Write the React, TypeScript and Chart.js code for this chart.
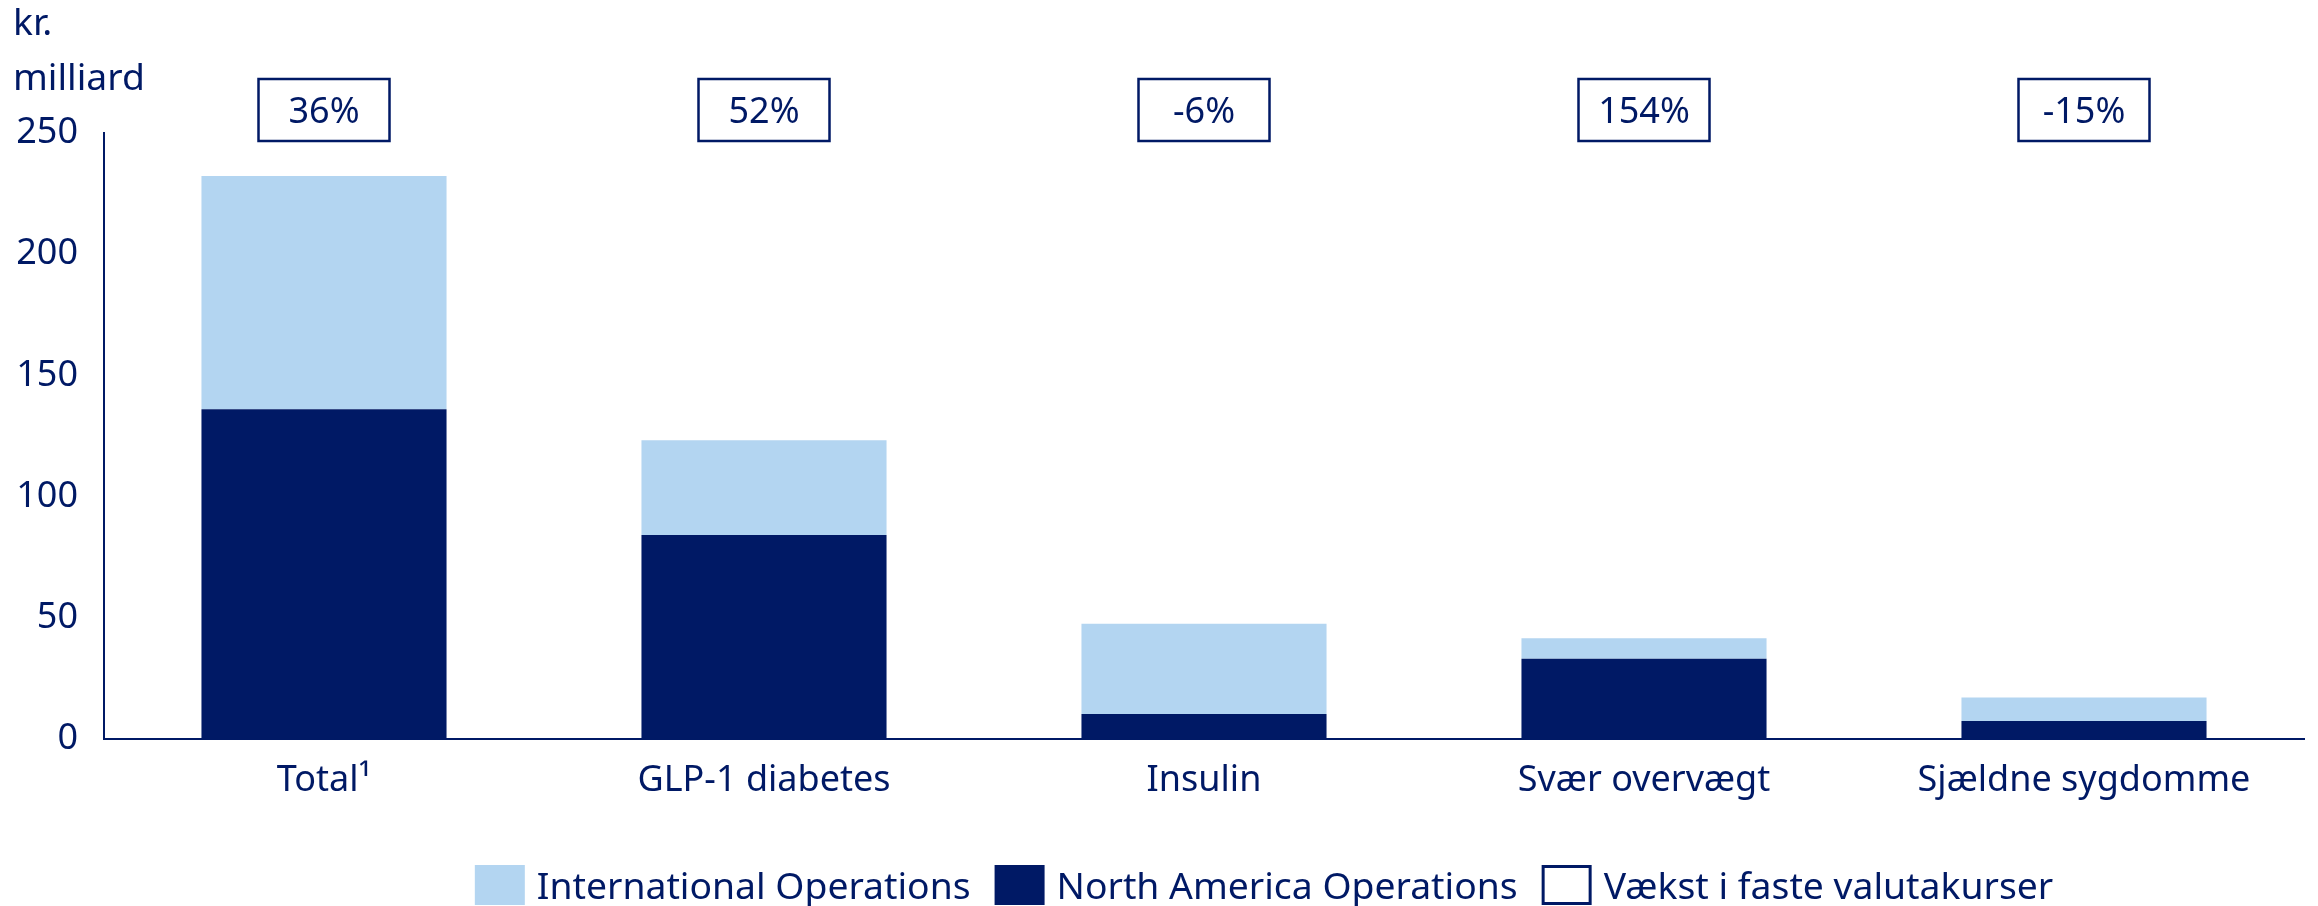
import React, { useEffect, useRef } from "react";
import { Chart, registerables } from "chart.js";

Chart.register(...registerables);

const categories = ["Total¹", "GLP-1 diabetes", "Insulin", "Svær overvægt", "Sjældne sygdomme"];
const northAmerica = [136.0, 84.2, 10.3, 33.1, 7.4];
const international = [96.3, 39.0, 37.2, 8.5, 9.7];
const growthLabels = ["36%", "52%", "-6%", "154%", "-15%"];
const yTicks = [0, 50, 100, 150, 200, 250];
const yTitleLines = ["kr.", "milliard"];
const legendLabels = ["International Operations", "North America Operations", "Vækst i faste valutakurser"];

const NAVY = "#001965";
const LIGHT = "#b3d5f1";
const FONT = "'Noto Sans', sans-serif";
const FS = 36;
const FS_LEGEND = 37.3;

const overlayPlugin = {
  id: "overlay",
  afterDraw(chart: any) {
    const ctx = chart.ctx;
    const area = chart.chartArea;
    const xs = chart.scales.x;
    ctx.save();
    ctx.fillStyle = NAVY;
    ctx.strokeStyle = NAVY;
    ctx.textAlign = "left";
    ctx.textBaseline = "alphabetic";
    // y-axis title
    ctx.font = `${FS_LEGEND}px ${FONT}`;
    ctx.fillText(yTitleLines[0], 13, 35);
    ctx.fillText(yTitleLines[1], 13, 90);

    // growth boxes
    ctx.font = `${FS}px ${FONT}`;
    const bw = 131;
    const bh = 62;
    const top = area.top - 54;
    growthLabels.forEach((g, i) => {
      const cx = xs.getPixelForValue(i);
      ctx.lineWidth = 2.5;
      ctx.strokeRect(cx - bw / 2, top, bw, bh);
      ctx.textAlign = "center";
      ctx.fillText(g, cx, top + 44);
    });

    // legend
    ctx.font = `${FS_LEGEND}px ${FONT}`;
    ctx.textAlign = "left";
    const boxW = 50;
    const boxH = 40;
    const textGap = 12;
    const itemGap = 24;
    const widths = legendLabels.map((l) => boxW + textGap + ctx.measureText(l).width);
    const total = widths.reduce((a, b) => a + b, 0) + itemGap * (legendLabels.length - 1);
    let x = 1264 - total / 2;
    const boxTop = 865;
    legendLabels.forEach((l, i) => {
      if (i === 0) {
        ctx.fillStyle = LIGHT;
        ctx.fillRect(x, boxTop, boxW, boxH);
      } else if (i === 1) {
        ctx.fillStyle = NAVY;
        ctx.fillRect(x, boxTop, boxW, boxH);
      } else {
        ctx.lineWidth = 3;
        ctx.strokeStyle = NAVY;
        ctx.strokeRect(x + 1.5, boxTop + 1.5, boxW - 3, boxH - 3);
      }
      ctx.fillStyle = NAVY;
      ctx.fillText(l, x + boxW + textGap, 899);
      x += widths[i] + itemGap;
    });
    ctx.restore();
  },
};

export default function App() {
  const ref = useRef<HTMLCanvasElement | null>(null);

  useEffect(() => {
    document.body.style.margin = "0";
    document.body.style.overflow = "hidden";
    if (!ref.current) return;
    const chart = new Chart(ref.current, {
      type: "bar",
      data: {
        labels: categories,
        datasets: [
          {
            label: legendLabels[1],
            data: northAmerica,
            backgroundColor: NAVY,
            borderWidth: 0,
            barPercentage: 0.557,
            categoryPercentage: 1,
          },
          {
            label: legendLabels[0],
            data: international,
            backgroundColor: LIGHT,
            borderWidth: 0,
            barPercentage: 0.557,
            categoryPercentage: 1,
          },
        ],
      },
      options: {
        animation: false,
        responsive: true,
        maintainAspectRatio: false,
        layout: { padding: { top: 133, right: 14, left: 0, bottom: 0 } },
        plugins: {
          legend: { display: false },
          title: { display: false },
          tooltip: { enabled: false },
        },
        scales: {
          x: {
            stacked: true,
            grid: { display: false, drawTicks: false },
            border: { display: true, color: NAVY, width: 2 },
            ticks: {
              color: NAVY,
              font: { family: FONT, size: FS },
              padding: 20,
              maxRotation: 0,
              autoSkip: false,
            },
            afterFit: (s: any) => {
              s.height = 167;
            },
          },
          y: {
            stacked: true,
            min: 0,
            max: 250,
            afterBuildTicks: (s: any) => {
              s.ticks = yTicks.map((v) => ({ value: v }));
            },
            grid: { display: false, drawTicks: false },
            border: { display: true, color: NAVY, width: 2 },
            ticks: {
              color: NAVY,
              font: { family: FONT, size: FS },
              padding: 26,
            },
            afterFit: (s: any) => {
              s.width = 104;
            },
          },
        },
      },
      plugins: [overlayPlugin],
    });
    return () => chart.destroy();
  }, []);

  return (
    <div style={{ position: "relative", width: "2318px", height: "906px" }}>
      <canvas ref={ref} />
    </div>
  );
}
